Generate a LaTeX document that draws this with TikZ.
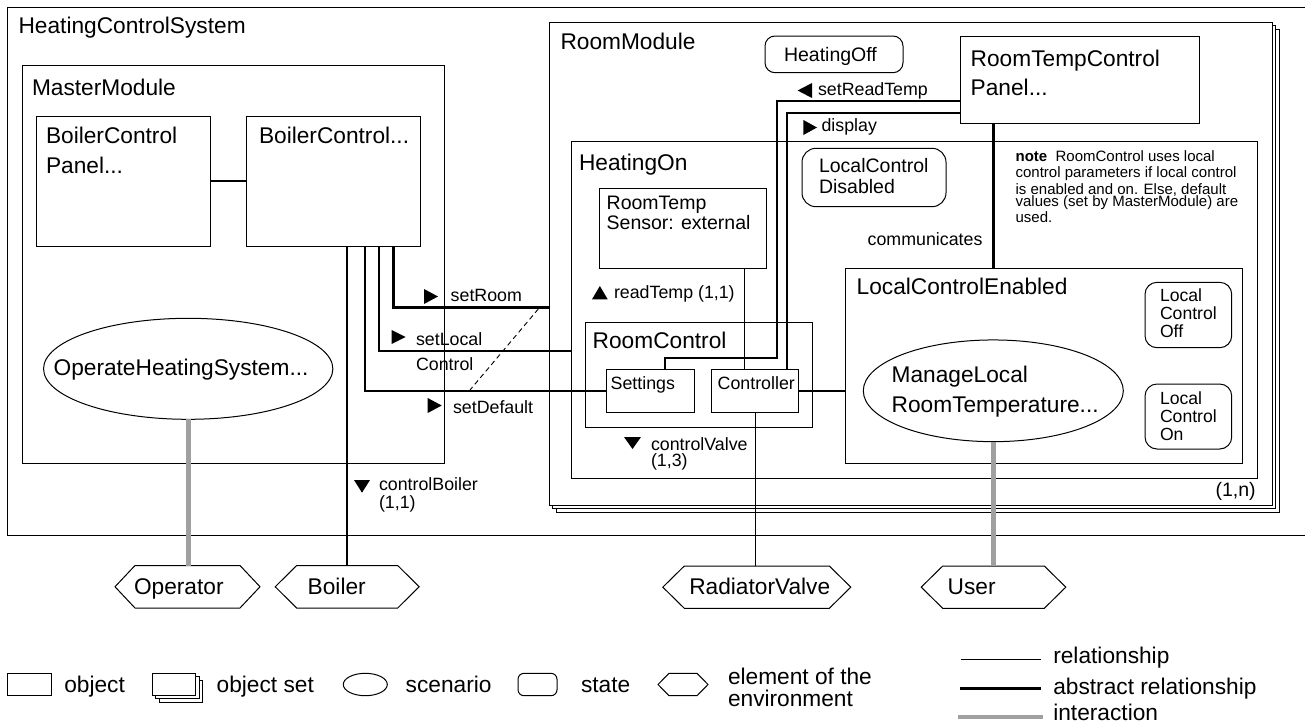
\documentclass[tikz,border=0pt]{standalone}
\usepackage{fontspec}
\setmainfont{Liberation Sans}
\usetikzlibrary{fit,calc,shapes.geometric}
\newcommand\FBig{\fontsize{22.7}{27}\selectfont}
\newcommand\FMid{\fontsize{19.5}{20.5}\selectfont}
\newcommand\FSmall{\fontsize{17.8}{18}\selectfont}
\newcommand\FState{\fontsize{17.6}{17.8}\selectfont}
\newcommand\FNote{\fontsize{15}{15.5}\selectfont}
\definecolor{igray}{RGB}{160,160,160}
\newcommand\hexpath[2]{\draw[hexline] (#1.north west) -- (#1.north east) -- ($(#1.east)+(#2,0)$) -- (#1.south east) -- (#1.south west) -- ($(#1.west)+(-#2,0)$) -- cycle;}
\begin{document}
\begin{tikzpicture}[x=1pt,y=-1pt,
  every node/.style={inner sep=0pt,outer sep=0pt},
  box/.style={draw,line width=1pt,fill=white,inner sep=0pt},
  statebox/.style={box,rounded corners=10pt},
  scen/.style={draw,ellipse,line width=1pt,fill=white,inner sep=0pt},
  hexline/.style={draw,line width=1pt,fill=white},
  lbl/.style={anchor=base west,inner sep=0pt,align=left},
  thickline/.style={line width=2.6pt},
  thinline/.style={line width=0.9pt},
  interact/.style={line width=4.6pt,draw=igray}]
\useasboundingbox (0,0) rectangle (1305,723);
% outer frame
\draw[line width=1pt] (1306,7) -| (7,535) -- (1306,535);
\node[lbl,font=\FBig] (hcs) at (18.6,33.3) {HeatingControlSystem};
% MasterModule
\node[box,fit={(22,65) (444.6,463)}] (mm) {};
\node[lbl,font=\FBig] (mmlbl) at (32,95) {MasterModule};
\node[box,fit={(36.4,116) (210,246)}] (bcp) {};
\node[lbl,font=\FBig] (bcplbl) at (46,143.3) {BoilerControl};
\node[lbl,font=\FBig] (bcplbl2) at (46,173.3) {Panel...};
\node[box,fit={(246,116) (420,246)}] (bc) {};
\node[lbl,font=\FBig] (bclbl) at (259,143.3) {BoilerControl...};
\node[scen,minimum width=289.3,minimum height=101] (ohs) at (188.2,368.8) {};
\node[lbl,font=\FBig] (ohslbl) at (53.6,375) {OperateHeatingSystem...};
% RoomModule stack
\node[box,fit={(556,29) (1279,512)}] (rmb2) {};
\node[box,fit={(552.5,25.5) (1275.5,508.5)}] (rmb1) {};
\node[box,fit={(549,22) (1272,505)}] (rm) {};
\node[lbl,font=\FBig] (rmlbl) at (560.5,49.3) {RoomModule};
\node[anchor=base east,font=\FMid] (card) at (1255.7,496.7) {(1,n)};
\node[statebox,fit={(765,36) (903,72.7)}] (hoff) {};
\node[lbl,font=\FMid] (hofflbl) at (784,61) {HeatingOff};
\node[box,fit={(960.5,36) (1199.5,123.3)}] (rtcp) {};
\node[lbl,font=\FBig] (rtcplbl) at (970.7,66) {RoomTempControl};
\node[lbl,font=\FBig] (rtcplbl2) at (970.7,95) {Panel...};
% HeatingOn
\node[box,fit={(571,141) (1257,478)}] (hon) {};
\node[lbl,font=\FBig] (honlbl) at (579,170) {HeatingOn};
\node[statebox,rounded corners=14pt,fit={(802,148.3) (946,206.7)}] (lcd) {};
\node[lbl,font=\FMid] (lcdlbl) at (819,172.7) {LocalControl};
\node[lbl,font=\FMid] (lcdlbl2) at (819,193.3) {Disabled};
\node[lbl,font=\FNote] (n1) at (1015.6,161.7) {\textbf{note}\ \ RoomControl uses local};
\node[lbl,font=\FNote] (n2) at (1015.6,177.7) {control parameters if local control};
\node[lbl,font=\FNote] (n3) at (1015.6,194) {is enabled and on. Else, default};
\node[lbl,font=\FNote] (n4) at (1015.6,206.5) {values (set by MasterModule) are};
\node[lbl,font=\FNote] (n5) at (1015.6,222.7) {used.};
\node[box,fit={(599.5,188) (766,268)}] (rts) {};
\node[lbl,font=\FMid] (rtslbl) at (606.7,209) {RoomTemp};
\node[lbl,font=\FMid] (rtslbl2) at (606.7,229) {Sensor: external};
\node[box,fit={(585.3,322.3) (812.7,427)}] (rc) {};
\node[lbl,font=\FBig] (rclbl) at (592.7,348.7) {RoomControl};
\node[box,fit={(606.7,369.3) (694,412.7)}] (settings) {};
\node[lbl,font=\FSmall] (setlbl) at (610.7,389.3) {Settings};
\node[box,fit={(711.7,369.3) (798.3,412.7)}] (ctrl) {};
\node[lbl,font=\FSmall] (ctrllbl) at (717.7,389.3) {Controller};
% LocalControlEnabled
\node[box,fit={(845,268.3) (1242.7,463.3)}] (lce) {};
\node[lbl,font=\FBig] (lcelbl) at (856.7,294.3) {LocalControlEnabled};
\node[statebox,rounded corners=12pt,fit={(1145,282.3) (1231.7,347.7)}] (lcoff) {};
\node[lbl,font=\FState] (lcoff1) at (1160,301.7) {Local};
\node[lbl,font=\FState] (lcoff2) at (1160,319.3) {Control};
\node[lbl,font=\FState] (lcoff3) at (1160,337.3) {Off};
\node[statebox,rounded corners=12pt,fit={(1145,384) (1231.7,449)}] (lcon) {};
\node[lbl,font=\FState] (lcon1) at (1160,404.3) {Local};
\node[lbl,font=\FState] (lcon2) at (1160,422.3) {Control};
\node[lbl,font=\FState] (lcon3) at (1160,440.7) {On};
\node[scen,minimum width=260,minimum height=101.7] (mlrt) at (993.3,390.8) {};
\node[lbl,font=\FBig] (mlrt1) at (891.7,382.7) {ManageLocal};
\node[lbl,font=\FBig] (mlrt2) at (891.7,412.7) {RoomTemperature...};
% environment elements
\node[fit={(135,565.5) (240,608)}] (op) {};
\hexpath{op}{20}
\node[lbl,font=\FBig] (oplbl) at (134,594) {Operator};
\node[fit={(296.7,565.5) (397.7,608)}] (boiler) {};
\hexpath{boiler}{21.5}
\node[lbl,font=\FBig] (boilerlbl) at (307.7,594) {Boiler};
\node[fit={(684.3,566) (829.3,608.3)}] (rv) {};
\hexpath{rv}{21.5}
\node[lbl,font=\FBig] (rvlbl) at (689.3,594.5) {RadiatorValve};
\node[fit={(942.7,566) (1044.3,608.3)}] (user) {};
\hexpath{user}{21.5}
\node[lbl,font=\FBig] (userlbl) at (947.7,594.5) {User};
% connectors
\draw[thickline] (bcp.east |- 0,181) -- (bc.west |- 0,181);
\draw[thickline] (bc.south -| 347,0) -- (boiler.north -| 347,0);
\draw[thickline] (bc.south -| 365,0) |- (settings.west);
\draw[thickline] (bc.south -| 379,0) |- (hon.west |- 0,351);
\draw[thickline] (bc.south -| 393.3,0) |- (rm.west |- 0,307.7);
\draw[thinline,dash pattern=on 5pt off 3.5pt] (538.3,309) -- (470,390);
\draw[thickline] (rtcp.west |- 0,101) -- (777,101) -- (777,358) -- (665,358) -- (settings.north -| 665,0);
\draw[thickline] (rtcp.west |- 0,113) -- (787,113) -- (ctrl.north -| 787,0);
\draw[thickline] (rtcp.south -| 993.3,0) -- (lce.north -| 993.3,0);
\draw[thickline] (ctrl.east) -- (lce.west |- ctrl.east);
\draw[thinline] (rts.south -| 744.3,0) -- (ctrl.north -| 744.3,0);
\draw[thinline] (ctrl.south -| 755.3,0) -- (rv.north -| 755.3,0);
\draw[interact] (ohs.south) -- (op.north -| ohs.south);
\draw[interact] (mlrt.south) -- (user.north -| mlrt.south);
% connector labels
\fill (424,289) -- (438,296.5) -- (424,304) -- cycle;
\node[lbl,font=\FSmall] (lsetroom) at (450.7,301) {setRoom};
\fill (391.7,330) -- (405.7,337) -- (391.7,344) -- cycle;
\node[lbl,font=\FSmall] (lsetlocal) at (416,345.7) {setLocal};
\node[lbl,font=\FSmall] (lsetlocal2) at (416,370) {Control};
\fill (427.7,398) -- (441.7,405.5) -- (427.7,413) -- cycle;
\node[lbl,font=\FSmall] (lsetdef) at (453,413) {setDefault};
\fill (354,480) -- (370,480) -- (362,492.7) -- cycle;
\node[lbl,font=\FSmall] (lcb) at (379,490) {controlBoiler};
\node[lbl,font=\FSmall] (lcb2) at (379,508) {(1,1)};
\fill (592,299.3) -- (607.7,299.3) -- (599.85,286) -- cycle;
\node[lbl,font=\FSmall] (lrt) at (614,298.3) {readTemp (1,1)};
\fill (624,437) -- (641,437) -- (632.5,449) -- cycle;
\node[lbl,font=\FSmall] (lcv) at (651,450) {controlValve};
\node[lbl,font=\FSmall] (lcv2) at (651,466) {(1,3)};
\fill (812,83) -- (812,98) -- (797.6,90.5) -- cycle;
\node[lbl,font=\FSmall] (lsrt) at (818,95) {setReadTemp};
\fill (803.4,120) -- (817,127.5) -- (803.4,135) -- cycle;
\node[lbl,font=\FSmall] (ldisp) at (821.5,131.7) {display};
\node[anchor=base east,font=\FSmall] (lcomm) at (982.4,245) {communicates};
% legend
\node[box,fit={(7.3,673.3) (51.7,695.7)}] (lgobj) {};
\node[lbl,font=\FBig] (lgobjt) at (64.3,692.3) {object};
\node[box,fit={(159.3,680.3) (202.7,702)}] (lgset2) {};
\node[box,fit={(155.8,676.8) (199.2,698.5)}] (lgset1) {};
\node[box,fit={(152.3,673.3) (195.7,695)}] (lgset) {};
\node[lbl,font=\FBig] (lgsett) at (216.7,692.3) {object set};
\node[scen,minimum width=44,minimum height=22.4] (lgscen) at (365.3,684.5) {};
\node[lbl,font=\FBig] (lgscent) at (405.7,692.3) {scenario};
\node[statebox,rounded corners=6pt,fit={(518,673.3) (557,695.7)}] (lgstate) {};
\node[lbl,font=\FBig] (lgstatet) at (581,692.3) {state};
\node[fit={(669,673.3) (697,695.7)}] (lghex) {};
\hexpath{lghex}{11}
\node[lbl,font=\FBig] (lghext) at (728,684) {element of the};
\node[lbl,font=\FBig] (lghext2) at (728,706) {environment};
\coordinate (lr1) at (960.7,659);
\coordinate (lr2) at (1040.7,659);
\draw[thinline] (lr1) -- (lr2);
\node[lbl,font=\FBig] (lgrel) at (1053.3,663.3) {relationship};
\coordinate (la1) at (960,688.3);
\coordinate (la2) at (1041,688.3);
\draw[thickline] (la1) -- (la2);
\node[lbl,font=\FBig] (lgabs) at (1053.3,694) {abstract relationship};
\coordinate (li1) at (958,717.3);
\coordinate (li2) at (1042.7,717.3);
\draw[interact,line width=4pt] (li1) -- (li2);
\node[lbl,font=\FBig] (lgint) at (1053.3,720) {interaction};
\end{tikzpicture}
\end{document}
